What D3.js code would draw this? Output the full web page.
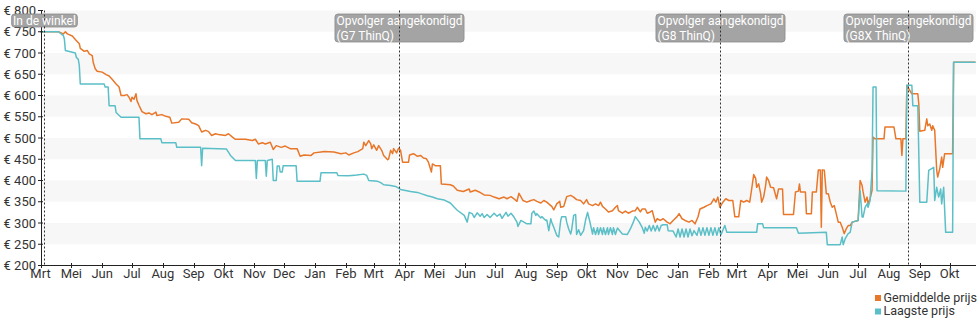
<!DOCTYPE html>
<html>
<head>
<meta charset="utf-8">
<script src="https://cdn.jsdelivr.net/npm/d3@7"></script>
<style>
  html, body { margin: 0; padding: 0; background: #fff; }
  svg { display: block; font-family: Roboto, "Noto Sans", "DejaVu Sans", sans-serif; }
</style>
</head>
<body>
<svg id="chart" width="980" height="325"></svg>
<script>
// Price history (euro) per day: average price and lowest price
const gemiddeldePrijs = [
  ["2017-03-31",750],["2017-04-18",750],["2017-04-23",745],["2017-04-25",750],["2017-04-27",745],["2017-05-02",740],["2017-05-05",732],["2017-05-09",722],["2017-05-10",711],["2017-05-14",704],["2017-05-17",706],["2017-05-19",698],["2017-05-22",694],["2017-05-23",678],["2017-05-25",663],["2017-05-27",657],["2017-06-01",655],["2017-06-05",649],["2017-06-08",646],["2017-06-11",638],["2017-06-15",627],["2017-06-18",620],["2017-06-20",600],["2017-06-23",600],["2017-06-26",602],["2017-06-28",596],["2017-06-30",586],["2017-07-01",596],["2017-07-03",591],["2017-07-05",604],["2017-07-06",588],["2017-07-08",577],["2017-07-11",562],["2017-07-15",557],["2017-07-18",559],["2017-07-21",555],["2017-07-25",561],["2017-07-26",553],["2017-07-31",555],["2017-08-04",551],["2017-08-08",549],["2017-08-10",535],["2017-08-17",537],["2017-08-20",545],["2017-08-27",544],["2017-08-30",536],["2017-09-03",533],["2017-09-06",529],["2017-09-09",514],["2017-09-13",518],["2017-09-16",515],["2017-09-19",506],["2017-09-23",510],["2017-09-26",508],["2017-10-03",506],["2017-10-06",510],["2017-10-10",502],["2017-10-13",497],["2017-10-23",497],["2017-10-30",494],["2017-11-02",497],["2017-11-05",486],["2017-11-09",489],["2017-11-12",486],["2017-11-17",490],["2017-11-20",473],["2017-11-23",482],["2017-11-28",478],["2017-12-02",481],["2017-12-07",475],["2017-12-14",475],["2017-12-17",457],["2017-12-21",460],["2017-12-28",459],["2017-12-31",465],
  ["2018-01-07",467],["2018-01-10",468],["2018-01-20",467],["2018-01-27",463],["2018-02-01",465],["2018-02-04",460],["2018-02-09",465],["2018-02-13",468],["2018-02-18",475],["2018-02-19",490],["2018-02-21",482],["2018-02-24",494],["2018-02-26",486],["2018-02-27",475],["2018-03-01",484],["2018-03-04",471],["2018-03-06",482],["2018-03-09",471],["2018-03-11",459],["2018-03-15",449],["2018-03-16",451],["2018-03-18",471],["2018-03-20",463],["2018-03-21",475],["2018-03-24",465],["2018-03-26",476],["2018-03-28",471],["2018-03-30",443],["2018-04-05",443],["2018-04-06",460],["2018-04-10",463],["2018-04-14",457],["2018-04-17",459],["2018-04-20",453],["2018-04-23",451],["2018-04-25",443],["2018-04-28",420],["2018-04-29",439],["2018-05-02",435],["2018-05-07",435],["2018-05-08",392],["2018-05-17",390],["2018-05-20",387],["2018-05-24",377],["2018-05-30",374],["2018-06-05",380],["2018-06-06",373],["2018-06-11",377],["2018-06-15",373],["2018-06-20",366],["2018-06-26",365],["2018-06-30",361],["2018-07-05",357],["2018-07-10",361],["2018-07-13",357],["2018-07-17",362],["2018-07-20",357],["2018-07-23",351],["2018-07-25",370],["2018-07-29",353],["2018-08-02",349],["2018-08-06",353],["2018-08-09",355],["2018-08-12",351],["2018-08-16",347],["2018-08-19",353],["2018-08-22",349],["2018-08-26",341],["2018-08-27",339],["2018-08-29",331],["2018-09-01",345],["2018-09-04",351],["2018-09-05",337],["2018-09-08",339],["2018-09-11",362],["2018-09-15",365],["2018-09-18",361],["2018-09-21",355],["2018-09-25",353],["2018-09-28",345],["2018-10-01",355],["2018-10-03",345],["2018-10-07",341],["2018-10-10",345],["2018-10-13",341],["2018-10-15",349],["2018-10-17",339],["2018-10-20",333],["2018-10-23",326],["2018-10-27",329],["2018-10-30",337],["2018-11-01",341],["2018-11-02",329],["2018-11-06",323],["2018-11-09",328],["2018-11-12",323],["2018-11-16",328],["2018-11-19",329],["2018-11-21",337],["2018-11-24",326],["2018-11-26",333],["2018-11-29",333],["2018-12-01",323],["2018-12-04",326],["2018-12-06",329],["2018-12-07",320],["2018-12-09",302],["2018-12-11",310],["2018-12-14",306],["2018-12-17",310],["2018-12-21",302],["2018-12-24",298],["2018-12-27",306],["2018-12-31",315],
  ["2019-01-02",322],["2019-01-05",310],["2019-01-08",306],["2019-01-12",302],["2019-01-15",306],["2019-01-18",298],["2019-01-21",314],["2019-01-23",333],["2019-01-27",337],["2019-01-30",341],["2019-02-03",345],["2019-02-06",357],["2019-02-08",349],["2019-02-10",361],["2019-02-12",337],["2019-02-15",349],["2019-02-18",357],["2019-02-21",353],["2019-02-25",353],["2019-02-27",315],["2019-03-03",315],["2019-03-05",353],["2019-03-08",349],["2019-03-11",353],["2019-03-14",349],["2019-03-16",380],["2019-03-18",414],["2019-03-20",405],["2019-03-21",384],["2019-03-23",392],["2019-03-25",369],["2019-03-26",349],["2019-03-28",361],["2019-03-30",388],["2019-03-31",408],["2019-04-02",400],["2019-04-04",384],["2019-04-07",383],["2019-04-10",357],["2019-04-12",380],["2019-04-16",380],["2019-04-17",320],["2019-04-27",320],["2019-04-29",373],["2019-05-02",375],["2019-05-03",392],["2019-05-04",373],["2019-05-09",373],["2019-05-10",322],["2019-05-15",322],["2019-05-16",373],["2019-05-20",373],["2019-05-22",425],["2019-05-24",425],["2019-05-25",290],["2019-05-26",425],["2019-05-28",424],["2019-05-30",369],["2019-06-01",369],["2019-06-03",349],["2019-06-05",337],["2019-06-07",341],["2019-06-09",322],["2019-06-11",302],["2019-06-13",302],["2019-06-15",290],["2019-06-17",275],["2019-06-19",286],["2019-06-21",294],["2019-06-23",294],["2019-06-25",302],["2019-07-01",306],["2019-07-03",400],["2019-07-05",388],["2019-07-06",373],["2019-07-08",349],["2019-07-10",361],["2019-07-11",345],["2019-07-13",357],["2019-07-15",377],["2019-07-16",502],["2019-07-18",498],["2019-07-27",498],["2019-07-28",526],["2019-08-06",526],["2019-08-08",498],["2019-08-13",498],["2019-08-14",459],["2019-08-15",498],["2019-08-18",498],["2019-08-19",624],["2019-08-24",604],["2019-08-30",604],["2019-08-31",580],["2019-09-01",516],["2019-09-06",518],["2019-09-08",545],["2019-09-09",529],["2019-09-11",533],["2019-09-13",518],["2019-09-14",529],["2019-09-16",518],["2019-09-18",424],["2019-09-19",408],["2019-09-21",427],["2019-09-23",455],["2019-09-24",431],["2019-09-26",463],["2019-10-04",463],["2019-10-05",678],["2019-10-27",678]
];

const laagstePrijs = [
  ["2017-03-31",750],["2017-04-18",750],["2017-04-23",741],["2017-04-24",733],["2017-04-25",706],["2017-05-05",700],["2017-05-06",690],["2017-05-08",685],["2017-05-09",671],["2017-05-10",627],["2017-06-03",627],["2017-06-04",620],["2017-06-07",620],["2017-06-08",576],["2017-06-14",576],["2017-06-15",560],["2017-06-20",549],["2017-07-08",549],["2017-07-09",498],["2017-07-30",498],["2017-07-31",489],["2017-08-14",489],["2017-08-15",478],["2017-09-08",478],["2017-09-09",435],["2017-09-10",476],["2017-10-04",474],["2017-10-08",459],["2017-10-13",447],["2017-11-02",447],["2017-11-03",405],["2017-11-04",447],["2017-11-12",447],["2017-11-13",410],["2017-11-14",447],["2017-11-19",450],["2017-11-20",400],["2017-11-23",400],["2017-11-24",434],["2017-11-26",434],["2017-11-27",420],["2017-11-29",420],["2017-11-30",435],["2017-12-13",435],["2017-12-14",398],
  ["2018-01-06",398],["2018-01-07",418],["2018-01-23",418],["2018-01-24",412],["2018-02-03",411],["2018-02-07",412],["2018-02-12",413],["2018-02-19",415],["2018-02-22",412],["2018-02-24",400],["2018-03-05",398],["2018-03-08",395],["2018-03-11",390],["2018-03-18",388],["2018-03-23",386],["2018-03-28",379],["2018-04-07",374],["2018-04-14",372],["2018-04-19",368],["2018-04-24",364],["2018-04-29",361],["2018-05-04",357],["2018-05-11",354],["2018-05-17",347],["2018-05-21",337],["2018-05-24",330],["2018-05-31",318],["2018-06-03",302],["2018-06-05",325],["2018-06-08",322],["2018-06-10",313],["2018-06-13",324],["2018-06-16",316],["2018-06-18",322],["2018-06-20",313],["2018-06-23",320],["2018-06-26",313],["2018-06-30",323],["2018-07-03",316],["2018-07-06",321],["2018-07-08",311],["2018-07-12",325],["2018-07-14",316],["2018-07-17",323],["2018-07-20",314],["2018-07-23",302],["2018-07-24",292],["2018-07-27",306],["2018-07-30",302],["2018-08-02",298],["2018-08-06",298],["2018-08-07",323],["2018-08-09",328],["2018-08-11",318],["2018-08-12",322],["2018-08-16",312],["2018-08-17",315],["2018-08-21",306],["2018-08-22",307],["2018-08-24",282],["2018-08-26",310],["2018-08-27",302],["2018-08-29",290],["2018-09-01",271],["2018-09-03",267],["2018-09-05",306],["2018-09-06",315],["2018-09-10",315],["2018-09-11",302],["2018-09-13",286],["2018-09-15",274],["2018-09-16",284],["2018-09-18",318],["2018-09-20",320],["2018-09-21",273],["2018-09-23",284],["2018-09-25",271],["2018-09-28",282],["2018-09-30",307],["2018-10-02",325],["2018-10-04",306],["2018-10-07",274],["2018-10-08",289],["2018-10-10",273],["2018-10-12",289],["2018-10-13",273],["2018-10-15",289],["2018-10-17",273],["2018-10-18",289],["2018-10-20",273],["2018-10-22",289],["2018-10-23",273],["2018-10-25",289],["2018-10-27",273],["2018-10-28",289],["2018-10-30",273],["2018-11-01",288],["2018-11-06",274],["2018-11-11",273],["2018-11-14",286],["2018-11-17",302],["2018-11-19",315],["2018-11-23",302],["2018-11-26",289],["2018-11-28",276],["2018-11-29",290],["2018-12-01",281],["2018-12-03",294],["2018-12-05",281],["2018-12-07",294],["2018-12-09",281],["2018-12-11",294],["2018-12-13",281],["2018-12-15",294],["2018-12-17",296],["2018-12-21",296],["2018-12-22",282],["2018-12-27",281],["2018-12-30",267],
  ["2019-01-01",286],["2019-01-03",267],["2019-01-05",286],["2019-01-07",267],["2019-01-09",286],["2019-01-11",267],["2019-01-13",286],["2019-01-15",270],["2019-01-17",282],["2019-01-20",271],["2019-01-22",289],["2019-01-24",271],["2019-01-26",289],["2019-01-28",271],["2019-01-30",289],["2019-02-01",271],["2019-02-03",289],["2019-02-05",271],["2019-02-07",289],["2019-02-09",271],["2019-02-11",289],["2019-02-13",272],["2019-02-17",294],["2019-02-19",278],["2019-03-21",278],["2019-03-22",298],["2019-03-27",298],["2019-03-28",289],["2019-04-30",289],["2019-05-02",276],["2019-05-30",278],["2019-05-31",249],["2019-06-13",249],["2019-06-15",267],["2019-06-16",249],["2019-06-18",263],["2019-06-21",275],["2019-06-23",278],["2019-06-25",302],["2019-07-01",306],["2019-07-03",376],["2019-07-05",314],["2019-07-06",314],["2019-07-08",337],["2019-07-10",345],["2019-07-11",337],["2019-07-13",353],["2019-07-15",424],["2019-07-16",620],["2019-07-19",620],["2019-07-20",376],["2019-08-18",375],["2019-08-19",624],["2019-08-24",624],["2019-08-25",576],["2019-08-30",576],["2019-09-01",349],["2019-09-08",349],["2019-09-10",424],["2019-09-15",431],["2019-09-16",353],["2019-09-18",384],["2019-09-20",361],["2019-09-22",380],["2019-09-23",345],["2019-09-25",384],["2019-09-27",278],["2019-10-04",278],["2019-10-05",678],["2019-10-27",678]
];

const seriesNames = ["Gemiddelde prijs", "Laagste prijs"];
const seriesColors = ["#e8772a", "#5bbfc7"];

const yTicks = [200, 250, 300, 350, 400, 450, 500, 550, 600, 650, 700, 750, 800];

const xTickDates = ["2017-03-31","2017-05-01","2017-06-01","2017-07-01","2017-08-01","2017-09-01","2017-10-01","2017-11-01","2017-12-01",
  "2018-01-01","2018-02-01","2018-03-01","2018-04-01","2018-05-01","2018-06-01","2018-07-01","2018-08-01","2018-09-01","2018-10-01","2018-11-01","2018-12-01",
  "2019-01-01","2019-02-01","2019-03-01","2019-04-01","2019-05-01","2019-06-01","2019-07-01","2019-08-01","2019-09-01","2019-10-01"];
const xTickLabels = ["Mrt","Mei","Jun","Jul","Aug","Sep","Okt","Nov","Dec",
  "Jan","Feb","Mrt","Apr","Mei","Jun","Jul","Aug","Sep","Okt","Nov","Dec",
  "Jan","Feb","Mrt","Apr","Mei","Jun","Jul","Aug","Sep","Okt"];

// Events marked with a dotted line and a label box
const eventDates = ["2017-04-04", "2018-03-26", "2019-02-12", "2019-08-20"];
const eventLabels = [
  ["In de winkel"],
  ["Opvolger aangekondigd", "(G7 ThinQ)"],
  ["Opvolger aangekondigd", "(G8 ThinQ)"],
  ["Opvolger aangekondigd", "(G8X ThinQ)"]
];

const domainStart = "2017-03-31";
const domainEnd = "2019-10-27";

const parse = d3.utcParse("%Y-%m-%d");
const svg = d3.select("#chart");

const plot = { left: 41, right: 976, top: 10, bottom: 265 };

const x = d3.scaleUtc()
  .domain([parse(domainStart), parse(domainEnd)])
  .range([40.5, 975.5]);

const y = d3.scaleLinear()
  .domain([200, 800])
  .range([265.5, 10.5]);

// Alternating horizontal bands
const bandStarts = yTicks.slice(0, -1).filter((d, i) => i % 2 === 1);
svg.append("g")
  .selectAll("rect")
  .data(bandStarts)
  .join("rect")
  .attr("x", plot.left)
  .attr("width", plot.right - plot.left)
  .attr("y", d => y(d + 50))
  .attr("height", d => y(d) - y(d + 50))
  .attr("fill", "#f7f7f7");

// Price lines
const line = d3.line()
  .x(d => x(parse(d[0])))
  .y(d => y(d[1]));

[gemiddeldePrijs, laagstePrijs].forEach((series, i) => {
  svg.append("path")
    .datum(series)
    .attr("d", line)
    .attr("fill", "none")
    .attr("stroke", seriesColors[i])
    .attr("stroke-width", 1.5)
    .attr("stroke-linejoin", "round");
});

// Y axis
const yAxis = svg.append("g").attr("class", "y-axis");
yAxis.append("line")
  .attr("x1", 41.5).attr("x2", 41.5)
  .attr("y1", y(800)).attr("y2", y(200))
  .attr("stroke", "#222").attr("stroke-width", 1);
yAxis.selectAll("line.tick")
  .data(yTicks)
  .join("line")
  .attr("class", "tick")
  .attr("x1", 38).attr("x2", 43)
  .attr("y1", d => y(d)).attr("y2", d => y(d))
  .attr("stroke", "#222");
yAxis.selectAll("text")
  .data(yTicks)
  .join("text")
  .attr("x", 36)
  .attr("y", d => y(d))
  .attr("dy", "0.36em")
  .attr("text-anchor", "end")
  .attr("font-size", 13)
  .attr("fill", "#333")
  .text(d => "€ " + d);

// X axis
const xAxis = svg.append("g").attr("class", "x-axis");
xAxis.append("line")
  .attr("x1", 41).attr("x2", plot.right)
  .attr("y1", 265.5).attr("y2", 265.5)
  .attr("stroke", "#222");
const ticks = xTickDates.map((d, i) => ({ date: parse(d), label: xTickLabels[i] }));
xAxis.selectAll("line.tick")
  .data(ticks)
  .join("line")
  .attr("class", "tick")
  .attr("x1", d => Math.round(x(d.date)) + 0.5)
  .attr("x2", d => Math.round(x(d.date)) + 0.5)
  .attr("y1", 263).attr("y2", 268)
  .attr("stroke", "#222");
xAxis.selectAll("text")
  .data(ticks)
  .join("text")
  .attr("x", d => x(d.date))
  .attr("y", 278)
  .attr("text-anchor", "middle")
  .attr("font-size", 13)
  .attr("fill", "#333")
  .text(d => d.label);

// Event markers
const events = eventDates.map((d, i) => ({ date: parse(d), lines: eventLabels[i] }));
const ev = svg.append("g").selectAll("g").data(events).join("g");

const lineHeight = 15;
ev.each(function (d) {
  const g = d3.select(this);
  const cx = Math.round(x(d.date)) + 0.5;
  const txt = g.append("text")
    .attr("font-size", 12)
    .attr("fill", "#fff");
  d.lines.forEach((l, j) => {
    txt.append("tspan").attr("x", 0).attr("y", 25 + j * lineHeight).text(l);
  });
  const w = d3.max(txt.selectAll("tspan").nodes(), n => n.getComputedTextLength());
  const boxW = w + 3;
  const boxH = 12 + (d.lines.length - 1) * lineHeight + 1;
  const left = cx - boxW / 2;
  g.insert("rect", "text")
    .attr("x", left).attr("y", 14)
    .attr("width", boxW).attr("height", boxH)
    .attr("rx", 3)
    .attr("fill", "#a4a4a4")
    .attr("stroke", "#8c8c8c")
    .attr("stroke-width", 0.8);
  g.insert("line", "text")
    .attr("x1", cx).attr("x2", cx)
    .attr("y1", y(800)).attr("y2", 265)
    .attr("stroke", "#333")
    .attr("stroke-width", 1)
    .attr("stroke-dasharray", "2,2");
  txt.attr("transform", `translate(${left + 1.5},0)`);
});

// Legend
const legend = svg.append("g").selectAll("g").data(seriesNames).join("g")
  .attr("transform", (d, i) => `translate(875,${295 + i * 13.5})`);
legend.append("rect")
  .attr("width", 6).attr("height", 6)
  .attr("fill", (d, i) => seriesColors[i]);
legend.append("text")
  .attr("x", 8.5).attr("y", 6.5)
  .attr("font-size", 12.5)
  .attr("fill", "#333")
  .text(d => d);
</script>
</body>
</html>
